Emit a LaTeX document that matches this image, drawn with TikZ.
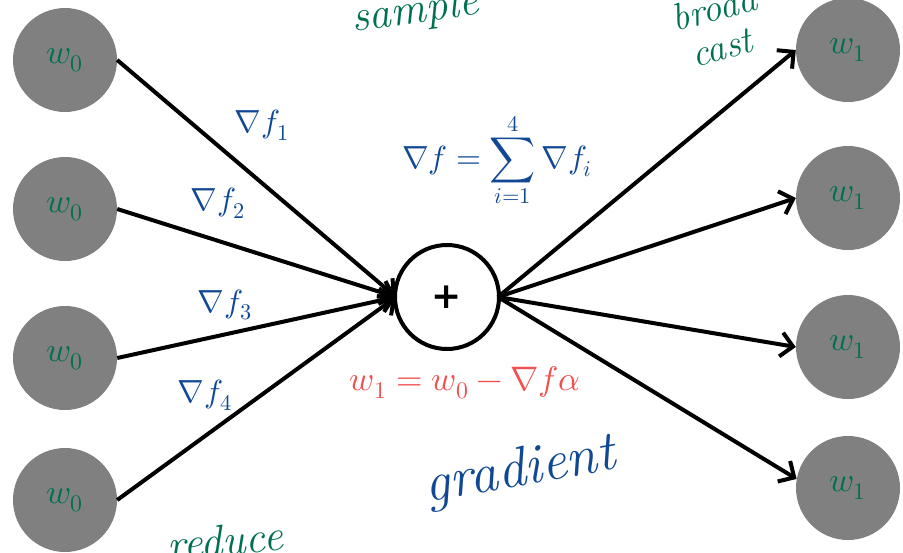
\documentclass[tikz,border=0pt]{standalone}
\usepackage{fontspec}
\usepackage{unicode-math}
\setmathfont{Latin Modern Math}
\newfontfamily\plusfont{DejaVu Sans}
\usetikzlibrary{arrows.meta}
\definecolor{inkgreen}{RGB}{0,112,80}
\definecolor{inkblue}{RGB}{16,72,148}
\definecolor{inkred}{RGB}{240,80,80}
\definecolor{nodegray}{RGB}{128,128,128}
\begin{document}
\begin{tikzpicture}[x=1pt,y=-1pt,
  wnode/.style={circle,fill=nodegray,minimum size=104pt,inner sep=0pt,text=inkgreen,font=\fontsize{34}{36}\selectfont},
  sumnode/.style={circle,draw=black,line width=4pt,fill=white,minimum size=104pt,inner sep=0pt,font=\plusfont\bfseries\fontsize{36}{38}\selectfont},
  conn/.style={line width=4pt,-{Straight Barb[length=12pt,width=24pt,line width=4pt]}},
  lbl/.style={text=inkblue,font=\fontsize{32}{34}\selectfont,inner sep=0pt},
  glbl/.style={text=inkgreen,font=\fontsize{44}{46}\selectfont\itshape,inner sep=0pt}
]
\useasboundingbox (0,0) rectangle (903,552);
\node[wnode] (l1) at (65,60) {$w_0$};
\node[wnode] (l2) at (65,209) {$w_0$};
\node[wnode] (l3) at (65,358) {$w_0$};
\node[wnode] (l4) at (65,500) {$w_0$};
\node[wnode] (r1) at (848,50) {$w_1$};
\node[wnode] (r2) at (848,198) {$w_1$};
\node[wnode] (r3) at (848,347) {$w_1$};
\node[wnode] (r4) at (848,488) {$w_1$};
\node[sumnode] (c) at (447,297) {+};
\coordinate (cin) at (396,297);
\coordinate (cout) at (498,297);
\draw[conn] (l1.east) -- (cin);
\draw[conn] (l2.east) -- (cin);
\draw[conn] (l3.east) -- (cin);
\draw[conn] (l4.east) -- (cin);
\draw[conn] (cout) -- (r1.west);
\draw[conn] (cout) -- (r2.west);
\draw[conn] (cout) -- (r3.west);
\draw[conn] (cout) -- (r4.170);
\node[lbl] (g1) at (262,125) {$\nabla f_{1}$};
\node[lbl] (g2) at (218,203) {$\nabla f_{2}$};
\node[lbl] (g3) at (225,305) {$\nabla f_{3}$};
\node[lbl] (g4) at (205,395) {$\nabla f_{4}$};
\node[lbl] (gsum) at (497,160) {$\nabla f=\displaystyle\sum_{i=1}^{4}\nabla f_i$};
\node[text=inkred,font=\fontsize{34}{36}\selectfont,inner sep=0pt] (upd) at (465,383) {$w_1=w_0-\nabla f\alpha$};
\node[text=inkblue,font=\fontsize{56}{58}\selectfont\itshape,inner sep=0pt,rotate=10] (grad) at (520,472) {gradient};
\node[glbl,rotate=8] (smp) at (415,12) {sample};
\node[glbl,rotate=15,font=\fontsize{38}{40}\selectfont\itshape] (bc1) at (714,8) {broad};
\node[glbl,rotate=15,font=\fontsize{38}{40}\selectfont\itshape] (bc2) at (722,48) {cast};
\node[glbl,rotate=5] (red) at (225,540) {reduce};
\end{tikzpicture}
\end{document}
